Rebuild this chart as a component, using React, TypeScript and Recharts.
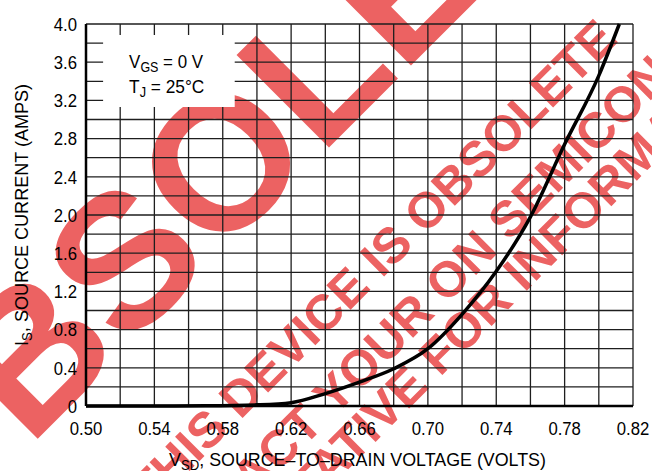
import { LineChart, Line, XAxis, YAxis, CartesianGrid, ReferenceArea } from 'recharts';

// Source-to-drain diode forward characteristic, VGS = 0 V, TJ = 25°C
const VSD = [0.5, 0.54, 0.57, 0.6, 0.62, 0.64, 0.66, 0.68, 0.7, 0.72, 0.74, 0.76, 0.78, 0.8, 0.812];
const IS = [0, 0, 0.002, 0.012, 0.035, 0.13, 0.25, 0.39, 0.6, 0.96, 1.41, 1.98, 2.74, 3.46, 4.0];

const X_TICKS = [0.5, 0.52, 0.54, 0.56, 0.58, 0.6, 0.62, 0.64, 0.66, 0.68, 0.7, 0.72, 0.74, 0.76, 0.78, 0.8, 0.82];
const X_TICK_LABELS = ['0.50', '', '0.54', '', '0.58', '', '0.62', '', '0.66', '', '0.70', '', '0.74', '', '0.78', '', '0.82'];
const Y_TICKS = [0, 0.2, 0.4, 0.6, 0.8, 1.0, 1.2, 1.4, 1.6, 1.8, 2.0, 2.2, 2.4, 2.6, 2.8, 3.0, 3.2, 3.4, 3.6, 3.8, 4.0];
const Y_TICK_LABELS = ['0', '', '0.4', '', '0.8', '', '1.2', '', '1.6', '', '2.0', '', '2.4', '', '2.8', '', '3.2', '', '3.6', '', '4.0'];

const data = VSD.map((v, i) => ({ v, i: IS[i] }));

const FONT = "'Liberation Sans', Arial, sans-serif";
const WM = '#ec6262';

function Watermark() {
  return (
    <svg width={652} height={471} style={{ position: 'absolute', left: 0, top: 0 }}>
      <g transform="rotate(-45)" fill={WM} fontFamily={FONT} fontWeight="bold">
        <text x={-444} y={337} fontSize={190}>OBSOLETE</text>
        <text x={-255} y={467} fontSize={50}>THIS DEVICE IS OBSOLETE</text>
        <text x={-312} y={531} fontSize={50}>CONTACT YOUR ON SEMICONDUCTOR</text>
        <text x={-415} y={578} fontSize={50}>REPRESENTATIVE FOR INFORMATION</text>
      </g>
    </svg>
  );
}

// condensed look: squeeze glyphs horizontally
function XTick(props: any) {
  const { x, y, index } = props;
  return (
    <text transform={`translate(${x},${y}) scale(0.88,1)`} dy="0.71em" textAnchor="middle" fontFamily={FONT} fontSize={19} fill="#000">
      {X_TICK_LABELS[index]}
    </text>
  );
}

function YTick(props: any) {
  const { x, y, index } = props;
  return (
    <text transform={`translate(${x},${y}) scale(0.88,1)`} dy="0.355em" textAnchor="end" fontFamily={FONT} fontSize={19} fill="#000">
      {Y_TICK_LABELS[index]}
    </text>
  );
}

function BoxText(props: any) {
  const { x, y } = props.viewBox;
  return (
    <g fontFamily={FONT} fontSize={19} fill="#000">
      <text transform={`translate(${x + 26},${y + 33}) scale(0.89,1)`}>
        V<tspan fontSize={14} dy={4}>GS</tspan>
        <tspan dy={-4}> = 0 V</tspan>
      </text>
      <text transform={`translate(${x + 26},${y + 58}) scale(0.91,1)`}>
        T<tspan fontSize={14} dy={4}>J</tspan>
        <tspan dy={-4}> = 25°C</tspan>
      </text>
    </g>
  );
}

export default function App() {
  return (
    <div style={{ position: 'absolute', left: 0, top: 0, width: 652, height: 471, background: '#fff' }}>
      <Watermark />
      <div style={{ position: 'absolute', left: 0, top: 0 }}>
        <LineChart width={652} height={471} data={data} margin={{ top: 24, right: 19, bottom: 0, left: 0 }}>
          <CartesianGrid stroke="#1e1e1e" strokeWidth={1.3} />
          <XAxis
            dataKey="v"
            type="number"
            domain={[0.5, 0.82]}
            ticks={X_TICKS}
            interval={0}
            tickLine={false}
            tickMargin={9}
            height={65}
            axisLine={{ stroke: '#000', strokeWidth: 2.5 }}
            tick={<XTick />}
            label={{
              value: 'VSD, SOURCE–TO–DRAIN VOLTAGE (VOLTS)',
              content: (p: any) => {
                const vb = p.viewBox;
                const cx = vb.x + vb.width / 2 - 2;
                return (
                  <text transform={`translate(${cx},466) scale(0.94,1)`} textAnchor="middle" fontFamily={FONT} fontSize={19} fill="#000">
                    V<tspan fontSize={14} dy={4}>SD</tspan>
                    <tspan dy={-4}>, SOURCE–TO–DRAIN VOLTAGE (VOLTS)</tspan>
                  </text>
                );
              },
            }}
          />
          <YAxis
            type="number"
            domain={[0, 4]}
            ticks={Y_TICKS}
            interval={0}
            tickLine={false}
            tickMargin={3}
            width={86}
            axisLine={{ stroke: '#000', strokeWidth: 2.5 }}
            tick={<YTick />}
            label={{
              value: 'IS, SOURCE CURRENT (AMPS)',
              content: (p: any) => {
                const vb = p.viewBox;
                const cy = vb.y + vb.height / 2;
                return (
                  <text transform={`translate(28,${cy}) rotate(-90) scale(0.95,1)`} textAnchor="middle" fontFamily={FONT} fontSize={19} fill="#000">
                    I<tspan fontSize={14} dy={4}>S</tspan>
                    <tspan dy={-4}>, SOURCE CURRENT (AMPS)</tspan>
                  </text>
                );
              },
            }}
          />
          <ReferenceArea x1={0.51} x2={0.587} y1={3.13} y2={3.885} fill="#fff" fillOpacity={1} stroke="none" label={BoxText} />
          <Line type="monotone" dataKey="i" stroke="#000" strokeWidth={3.5} dot={false} isAnimationActive={false} />
        </LineChart>
      </div>
    </div>
  );
}
